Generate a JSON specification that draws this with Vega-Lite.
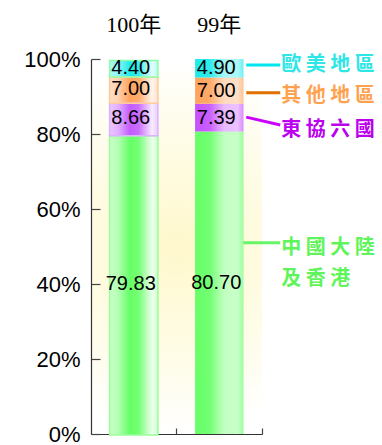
{
  "$schema": "https://vega.github.io/schema/vega-lite/v6.json",
  "width": 171,
  "height": 375,
  "autosize": {"type": "none"},
  "padding": {"left": 91, "right": 120, "top": 59, "bottom": 11},
  "background": "white",
  "config": {
    "view": {
      "stroke": null,
      "fill": {
        "gradient": "radial",
        "x1": 0.5, "y1": 0.5, "r1": 0,
        "x2": 0.5, "y2": 0.5, "r2": 0.5,
        "stops": [
          {"offset": 0, "color": "#fff8cc"},
          {"offset": 0.6, "color": "#fffce8"},
          {"offset": 1, "color": "#ffffff"}
        ]
      }
    },
    "axis": {"grid": false, "domainColor": "#333", "tickColor": "#444", "labelColor": "#000", "domainWidth": 1.2, "tickWidth": 1.2},
    "axisY": {"labelFont": "Liberation Sans", "labelFontSize": 22, "tickSize": -9, "labelPadding": 20}
  },
  "datasets": {
    "shares": [
      {"year": "100年", "region": "中國大陸及香港", "share": 79.83},
      {"year": "100年", "region": "東協六國", "share": 8.66},
      {"year": "100年", "region": "其他地區", "share": 7.00},
      {"year": "100年", "region": "歐美地區", "share": 4.40},
      {"year": "99年", "region": "中國大陸及香港", "share": 80.70},
      {"year": "99年", "region": "東協六國", "share": 7.39},
      {"year": "99年", "region": "其他地區", "share": 7.00},
      {"year": "99年", "region": "歐美地區", "share": 4.90}
    ],
    "notes": [
      {"region": "歐美地區", "label": "歐 美 地 區", "from": 98.4, "to": 98.4, "textAt": 98.4},
      {"region": "其他地區", "label": "其 他 地 區", "from": 91.0, "to": 91.0, "textAt": 90.2},
      {"region": "東協六國", "label": "東 協 六 國", "from": 84.5, "to": 82.4, "textAt": 81.1},
      {"region": "中國大陸及香港", "label": "中 國 大 陸\n及 香 港", "from": 51.0, "to": 51.0, "textAt": 49.7}
    ]
  },
  "layer": [
    {
      "data": {"name": "shares"},
      "transform": [{"filter": "datum.year === '99年'"}],
      "mark": {"type": "bar", "width": {"band": 0.565}},
      "encoding": {
        "x": {
          "field": "year", "type": "nominal", "sort": ["100年", "99年"],
          "scale": {"paddingInner": 0, "paddingOuter": 0},
          "axis": {"orient": "bottom", "labels": false, "bandPosition": 1, "tickSize": -6, "title": null}
        },
        "y": {
          "field": "share", "type": "quantitative", "stack": "zero",
          "scale": {"domain": [0, 100], "nice": false},
          "axis": {"values": [0, 20, 40, 60, 80, 100], "labelExpr": "datum.value + '%'", "title": null}
        },
        "color": {
          "field": "region", "type": "nominal",
          "scale": {"domain": ["中國大陸及香港", "東協六國", "其他地區", "歐美地區"], "range": ["#66ff66", "#c650ff", "#ffa35c", "#1eeaea"]},
          "legend": null
        },
        "order": {"field": "share", "sort": "descending"}
      }
    },
    {
      "data": {"name": "shares"},
      "transform": [{"filter": "datum.year === '100年'"}],
      "mark": {"type": "bar", "width": {"band": 0.565}, "yOffset": 1, "y2Offset": -1},
      "encoding": {
        "x": {"field": "year", "type": "nominal", "sort": ["100年", "99年"], "axis": null},
        "y": {"field": "share", "type": "quantitative", "stack": "zero", "title": null},
        "color": {
          "field": "region", "type": "nominal",
          "scale": {"domain": ["中國大陸及香港", "東協六國", "其他地區", "歐美地區"], "range": ["#66ff66", "#c45cff", "#ffa35c", "#1eeaea"]},
          "legend": null
        },
        "order": {"field": "share", "sort": "descending"}
      }
    },
    {
      "data": {"name": "shares"},
      "transform": [{"filter": "datum.year === '99年'"}],
      "mark": {
        "type": "bar", "width": {"band": 0.565},
        "fill": {
          "gradient": "linear", "x1": 0, "y1": 0, "x2": 1, "y2": 0,
          "stops": [
            {"offset": 0, "color": "rgba(255,255,255,0)"},
            {"offset": 0.3, "color": "rgba(255,255,255,0.08)"},
            {"offset": 0.6, "color": "rgba(255,255,255,0.6)"},
            {"offset": 0.88, "color": "rgba(255,255,255,0.65)"},
            {"offset": 1, "color": "rgba(255,255,255,0.35)"}
          ]
        }
      },
      "encoding": {
        "x": {"field": "year", "type": "nominal", "sort": ["100年", "99年"], "axis": null},
        "y": {"field": "share", "type": "quantitative", "stack": "zero", "title": null},
        "detail": {"field": "region"},
        "order": {"field": "share", "sort": "descending"}
      }
    },
    {
      "data": {"name": "shares"},
      "transform": [{"filter": "datum.year === '100年'"}],
      "mark": {
        "type": "bar", "width": {"band": 0.565}, "yOffset": 1, "y2Offset": -1, "strokeWidth": 1.5,
        "fill": {
          "gradient": "linear", "x1": 0, "y1": 0, "x2": 1, "y2": 0,
          "stops": [
            {"offset": 0, "color": "rgba(255,255,255,0.65)"},
            {"offset": 0.18, "color": "rgba(255,255,255,0.5)"},
            {"offset": 0.42, "color": "rgba(255,255,255,0)"},
            {"offset": 0.6, "color": "rgba(255,255,255,0.1)"},
            {"offset": 0.88, "color": "rgba(255,255,255,0.88)"},
            {"offset": 1, "color": "rgba(255,255,255,0.7)"}
          ]
        }
      },
      "encoding": {
        "x": {"field": "year", "type": "nominal", "sort": ["100年", "99年"], "axis": null},
        "y": {"field": "share", "type": "quantitative", "stack": "zero", "title": null},
        "stroke": {
          "field": "region", "type": "nominal",
          "scale": {"domain": ["中國大陸及香港", "東協六國", "其他地區", "歐美地區"], "range": ["#99ff99", "#d9b3ff", "#ffc999", "#8cffa6"]},
          "legend": null
        },
        "order": {"field": "share", "sort": "descending"}
      }
    },
    {
      "data": {"name": "shares"},
      "mark": {"type": "text", "font": "Liberation Sans", "fontSize": 20, "dx": -3, "color": "#000"},
      "encoding": {
        "x": {
          "field": "year", "type": "nominal", "sort": ["100年", "99年"],
          "axis": {"orient": "top", "domain": false, "ticks": false, "labelAngle": 0, "labelFont": "Liberation Serif, Noto Sans CJK TC", "labelFontSize": 22, "labelPadding": 23, "title": null}
        },
        "y": {"field": "share", "type": "quantitative", "stack": "zero", "bandPosition": 0.5, "title": null},
        "detail": {"field": "region"},
        "order": {"field": "share", "sort": "descending"},
        "text": {"field": "share", "type": "quantitative", "format": ".2f"}
      }
    },
    {
      "data": {"name": "notes"},
      "transform": [{"filter": "datum.region !== '中國大陸及香港'"}],
      "mark": {"type": "rule", "strokeWidth": 3, "xOffset": 27, "x2Offset": 61},
      "encoding": {
        "x": {"datum": "99年", "type": "nominal", "axis": null},
        "x2": {"datum": "99年"},
        "y": {"field": "from", "type": "quantitative", "title": null},
        "y2": {"field": "to"},
        "stroke": {
          "field": "region", "type": "nominal",
          "scale": {"domain": ["中國大陸及香港", "東協六國", "其他地區", "歐美地區"], "range": ["#66f566", "#cc00ff", "#e07000", "#00e5ef"]},
          "legend": null
        }
      }
    },
    {
      "data": {"name": "notes"},
      "transform": [{"filter": "datum.region === '中國大陸及香港'"}],
      "mark": {"type": "rule", "strokeWidth": 3, "xOffset": 24, "x2Offset": 61, "color": "#66f566"},
      "encoding": {
        "x": {"datum": "99年", "type": "nominal", "axis": null},
        "x2": {"datum": "99年"},
        "y": {"field": "from", "type": "quantitative", "title": null},
        "y2": {"field": "to"}
      }
    },
    {
      "data": {"name": "notes"},
      "mark": {"type": "text", "align": "left", "baseline": "middle", "font": "Noto Sans CJK TC", "fontWeight": "bold", "fontSize": 20, "dx": 62, "lineBreak": "\n", "lineHeight": 31},
      "encoding": {
        "x": {"datum": "99年", "type": "nominal", "axis": null},
        "y": {"field": "textAt", "type": "quantitative", "title": null},
        "text": {"field": "label"},
        "color": {
          "field": "region", "type": "nominal",
          "scale": {"domain": ["中國大陸及香港", "東協六國", "其他地區", "歐美地區"], "range": ["#5ff55a", "#bb00ee", "#ffa24f", "#2ee6e6"]},
          "legend": null
        }
      }
    }
  ],
  "resolve": {
    "scale": {"color": "independent", "stroke": "independent"},
    "axis": {"x": "independent"}
  }
}
